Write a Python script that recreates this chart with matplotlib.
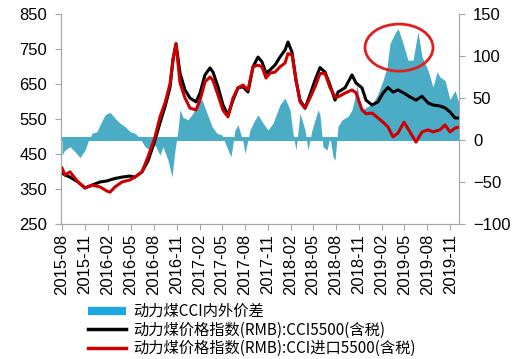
import matplotlib
matplotlib.use("Agg")
import matplotlib.pyplot as plt
import matplotlib.dates as mdates
from matplotlib.patches import Ellipse
from matplotlib.lines import Line2D
import numpy as np
import pandas as pd

plt.rcParams['font.family'] = ['Liberation Sans', 'DejaVu Sans']
plt.rcParams['axes.unicode_minus'] = True

# ---- data ----
line_dates = ["2015-08-01","2015-08-13","2015-09-02","2015-10-04","2015-11-01","2015-11-29",
              "2015-12-31","2016-01-28","2016-02-09","2016-02-29","2016-03-28","2016-04-29",
              "2016-05-19","2016-06-16","2016-07-10","2016-08-07","2016-08-27","2016-09-16",
              "2016-10-06","2016-10-18","2016-10-30","2016-11-15","2016-12-05","2016-12-25",
              "2017-01-18","2017-02-03","2017-02-23","2017-03-15","2017-03-27","2017-04-16",
              "2017-05-06","2017-05-26","2017-06-15","2017-07-05","2017-07-25","2017-08-14",
              "2017-09-03","2017-09-23","2017-10-09","2017-10-25","2017-11-10","2017-11-30",
              "2017-12-20","2018-01-09","2018-01-21","2018-02-06","2018-02-22","2018-03-10",
              "2018-03-30","2018-04-19","2018-05-09","2018-05-29","2018-06-18","2018-07-08",
              "2018-07-28","2018-08-09","2018-09-06","2018-10-04","2018-10-20","2018-11-13",
              "2018-11-29","2018-12-23","2019-01-16","2019-02-05","2019-02-25","2019-03-17",
              "2019-04-06","2019-04-30","2019-05-24","2019-06-17","2019-07-11","2019-08-04",
              "2019-08-24","2019-09-21","2019-10-11","2019-10-31","2019-11-20","2019-12-06"]
cci5500 = [396, 390, 384, 370, 353, 361,
           370, 373, 376, 380, 384, 387,
           384, 399, 430, 490, 539, 585,
           640, 720, 765, 681, 633, 610,
           599, 624, 676, 696, 684, 642,
           590, 561, 604, 639, 642, 627,
           699, 727, 713, 681, 690, 704,
           727, 747, 770, 741, 661, 604,
           581, 619, 661, 697, 684, 647,
           604, 627, 639, 676, 653, 639,
           604, 590, 599, 624, 640, 627,
           633, 624, 613, 604, 615, 596,
           590, 587, 582, 570, 553, 553]
cci_import5500 = [410, 390, 399, 370, 353, 361,
                  356, 344, 341, 356, 370, 376,
                  384, 399, 442, 499, 556, 596,
                  650, 720, 765, 653, 610, 581,
                  576, 604, 656, 670, 660, 618,
                  575, 556, 610, 639, 647, 633,
                  699, 704, 699, 667, 681, 684,
                  699, 710, 737, 733, 661, 599,
                  581, 610, 642, 680, 680, 640,
                  613, 613, 624, 633, 625, 576,
                  565, 567, 553, 541, 527, 499,
                  510, 541, 513, 484, 513, 519,
                  513, 519, 533, 513, 524, 527]

spread_dates = ["2015-08-01","2015-08-13","2015-09-02","2015-09-22","2015-10-12","2015-11-01",
                "2015-11-13","2015-11-29","2015-12-19","2015-12-31","2016-01-20","2016-02-09",
                "2016-02-29","2016-03-20","2016-04-09","2016-04-29","2016-05-19","2016-06-08",
                "2016-06-28","2016-07-18","2016-08-07","2016-08-27","2016-09-08","2016-09-28",
                "2016-10-14","2016-10-26","2016-11-07","2016-11-15","2016-11-27","2016-12-17",
                "2017-01-06","2017-01-26","2017-02-11","2017-03-03","2017-03-23","2017-04-12",
                "2017-05-02","2017-05-26","2017-06-07","2017-06-23","2017-07-05","2017-07-25",
                "2017-08-02","2017-08-22","2017-09-11","2017-09-23","2017-10-13","2017-11-02",
                "2017-11-22","2017-12-20","2018-01-09","2018-01-29","2018-02-10","2018-02-22",
                "2018-03-10","2018-03-30","2018-04-11","2018-04-27","2018-05-21","2018-05-29",
                "2018-06-10","2018-06-26","2018-07-08","2018-07-20","2018-07-28","2018-08-09",
                "2018-08-25","2018-09-18","2018-10-04","2018-10-16","2018-10-24","2018-11-05",
                "2018-11-13","2018-12-07","2018-12-27","2019-01-16","2019-02-05","2019-02-21",
                "2019-03-05","2019-03-25","2019-04-06","2019-04-22","2019-05-16","2019-06-05",
                "2019-06-25","2019-07-11","2019-08-04","2019-08-24","2019-09-09","2019-09-21",
                "2019-10-11","2019-10-31","2019-11-20","2019-12-06"]
spread = [-18, -12, -8, -14, -21, -12,
          -2, 8, 10, 18, 30, 33,
          26, 20, 16, 10, 8, 2,
          -8, -12, -6, -18, -8, -24,
          -44, -12, 12, 36, 27, 24,
          32, 44, 48, 32, 16, 8,
          6, -12, -20, 12, 18, -2,
          -16, 12, 24, 30, 20, 12,
          20, 42, 50, 36, 8, -12,
          32, 12, -12, 12, 36, 30,
          -8, -12, 4, -20, -24, 16,
          24, 28, 36, 51, 65, 44,
          36, 40, 44, 55, 71, 87,
          115, 127, 133, 119, 95, 95,
          129, 99, 83, 63, 81, 75,
          71, 48, 59, 44]

tick_labels = ["2015-08","2015-11","2016-02","2016-05","2016-08","2016-11","2017-02",
               "2017-05","2017-08","2017-11","2018-02","2018-05","2018-08","2018-11",
               "2019-02","2019-05","2019-08","2019-11"]

labels = ["动力煤CCI内外价差", "动力煤价格指数(RMB):CCI5500(含税)", "动力煤价格指数(RMB):CCI进口5500(含税)"]

# ---- figure ----
W, H = 516, 359
fig = plt.figure(figsize=(W/100, H/100), dpi=100)
L, R, T, B = 61, 459, 14, 224
axr = fig.add_axes([L/W, 1-B/H, (R-L)/W, (B-T)/H])
axl = axr.twinx()

ld = pd.to_datetime(line_dates)
sd = pd.to_datetime(spread_dates)
sp = np.array(spread, dtype=float)

fill_col = "#4bacc6"
axr.fill_between(sd, 0, sp, color=fill_col, linewidth=0)
axr.axhspan(-1, 4, color=fill_col, linewidth=0)
axr.set_ylim(-100, 150)
axr.set_yticks([-100, -50, 0, 50, 100, 150])
axr.yaxis.tick_right()

axl.plot(ld, cci5500, color="black", lw=2.2)
axl.plot(ld, cci_import5500, color="#cc0000", lw=2.2)
axl.set_ylim(250, 850)
axl.set_yticks(range(250, 851, 100))
axl.yaxis.tick_left()
axl.yaxis.set_label_position("left")

xmin = pd.Timestamp("2015-07-28")
xmax = pd.Timestamp("2019-12-06")
axr.set_xlim(xmin, xmax)
ticks = pd.to_datetime([t + "-01" for t in tick_labels])
axr.set_xticks(ticks)
axr.set_xticklabels(tick_labels, rotation=90, fontsize=12)

spine_col = "#a6a6a6"
for a in (axr, axl):
    a.spines['top'].set_visible(False)
    for s in ('left', 'right', 'bottom'):
        a.spines[s].set_color(spine_col)
    a.tick_params(colors=spine_col, labelcolor="black", labelsize=12, length=4, direction='out')
axl.tick_params(axis='y', pad=6)
axr.tick_params(axis='y', pad=6)
axr.tick_params(axis='x', pad=3)

# ellipse annotation
cx = mdates.date2num(pd.Timestamp("2019-04-10"))
ell = Ellipse((cx, 110), width=272, height=56, fill=False, edgecolor="#e02020", lw=2,
              transform=axr.transData, clip_on=False, zorder=5)
axr.add_patch(ell)

handles = [Line2D([], [], color="#1ea8e0", lw=6, solid_capstyle='butt'),
           Line2D([], [], color="black", lw=2.5),
           Line2D([], [], color="#cc0000", lw=2.5)]
fig.legend(handles, labels, loc='upper left', bbox_to_anchor=(88/W, 1-303/H),
           frameon=False, borderpad=0, borderaxespad=0, handlelength=2.5,
           handletextpad=0.45, labelspacing=0.1,
           prop={'family': ['Noto Sans CJK SC', 'DejaVu Sans'], 'size': 11})

fig.savefig("out.png", dpi=100)
